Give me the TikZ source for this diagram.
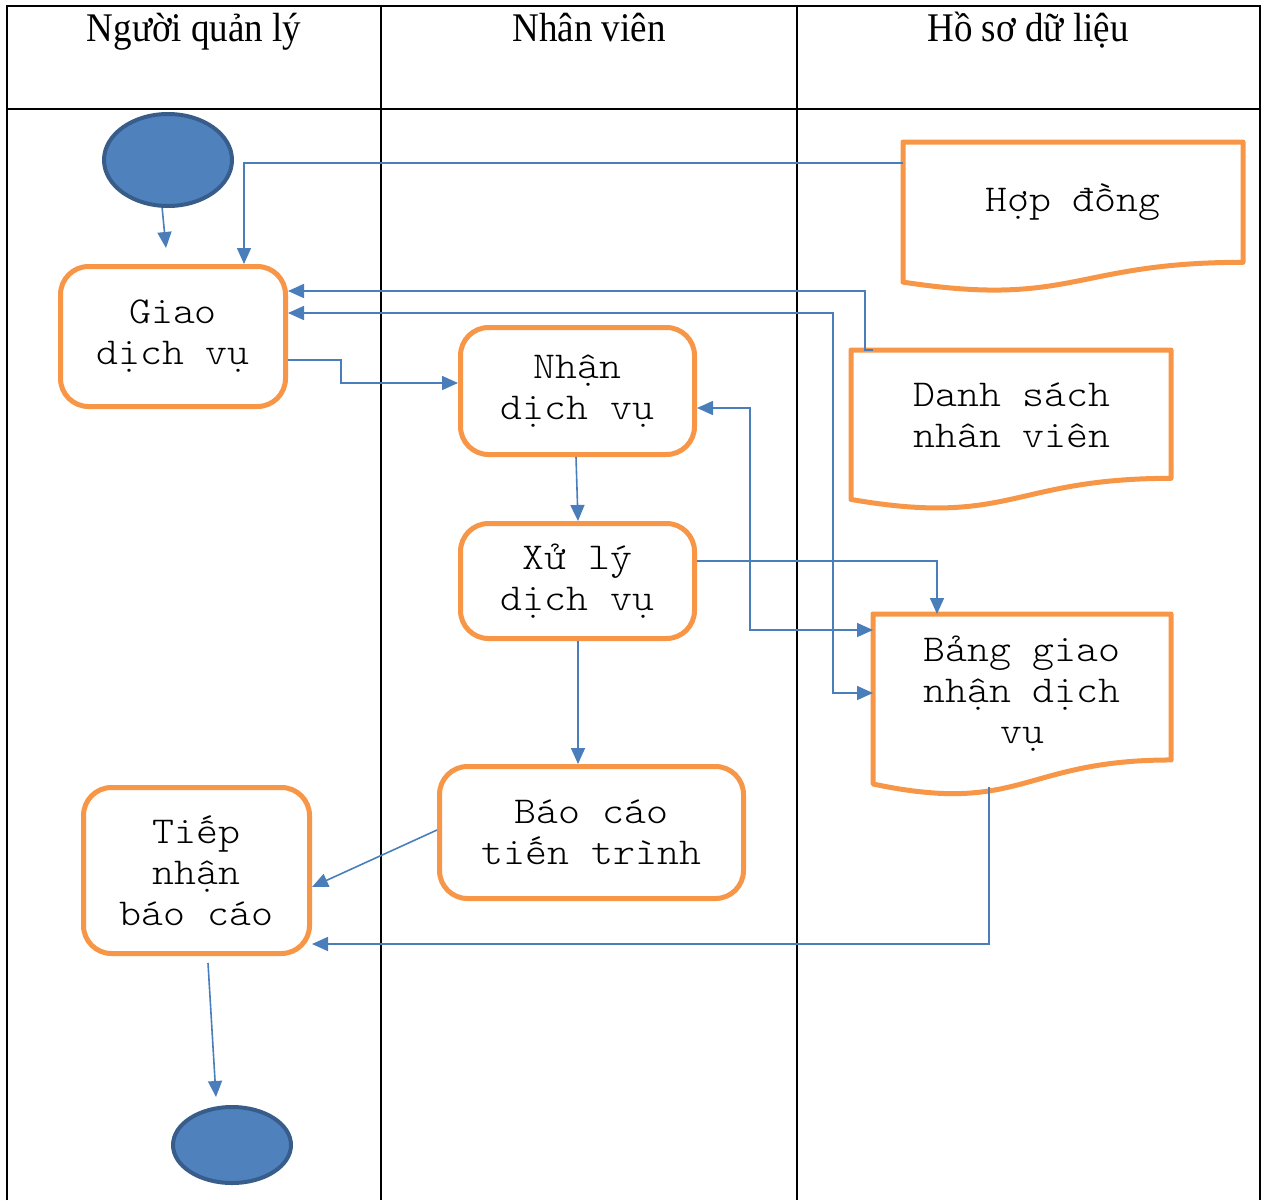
\documentclass[tikz,border=0pt]{standalone}
\usepackage{fontspec}
\setmainfont{Liberation Serif}
\newfontfamily\monofont[FakeStretch=1.1]{lmmonolt10-regular.otf}
\usetikzlibrary{arrows.meta,shapes.geometric,calc}
\definecolor{flowblue}{HTML}{4A7EBB}
\definecolor{boxorange}{HTML}{F79646}
\definecolor{termfill}{HTML}{4F81BD}
\definecolor{termline}{HTML}{385D8A}

% document symbol: flat top, wavy bottom
\newcommand\docoutline[1]{%
  \draw[docframe] let \p1=(#1.north west), \p2=(#1.south east), \n1={\y1-\y2} in
    (\x1,\y1) -- (\x2,\y1) -- (\x2,{\y1-0.802*\n1})
    .. controls ({(\x1+\x2)/2},{\y1-0.802*\n1}) and ({(\x1+\x2)/2},{\y1-1.107*\n1}) ..
    (\x1,{\y1-0.934*\n1}) -- cycle;}

\begin{document}
\begin{tikzpicture}[x=1pt,y=-1pt,
  grid/.style={line width=2pt, black},
  head/.style={font=\fontsize{37}{40}\selectfont, anchor=base, inner sep=0pt},
  task/.style={draw=boxorange, line width=5pt, rounded corners=28pt, fill=white,
    align=center, font=\monofont\fontsize{38}{41}\selectfont, inner sep=0pt},
  docframe/.style={draw=boxorange, line width=5pt, line join=round},
  docarea/.style={inner sep=0pt, outer sep=0pt, anchor=north west},
  doctext/.style={align=center, font=\monofont\fontsize{38}{41}\selectfont, inner sep=0pt},
  term/.style={ellipse, draw=termline, fill=termfill, line width=4pt, inner sep=0pt},
  flow/.style={draw=flowblue, line width=1.6pt, -{Triangle[length=16pt,width=14pt]}},
  flowboth/.style={draw=flowblue, line width=1.6pt,
    {Triangle[length=16pt,width=14pt]}-{Triangle[length=16pt,width=14pt]}},
]
\useasboundingbox (0,0) rectangle (1264,1200);

% swimlane table
\draw[grid] (7,1200) -- (7,6) -- (1260,6) -- (1260,1200);
\draw[grid] (7,109) -- (1260,109);
\draw[grid] (381,6) -- (381,1200);
\draw[grid] (797,6) -- (797,1200);

\node[head] (h1) at (194,41) {\scalebox{1}[1.1]{Người quản lý}};
\node[head] (h2) at (589,41) {\scalebox{1}[1.1]{Nhân viên}};
\node[head] (h3) at (1028,41) {\scalebox{1}[1.1]{Hồ sơ dữ liệu}};

% start and end
\node[term, minimum width=128, minimum height=92] (start) at (168,160) {};
\node[term, minimum width=118, minimum height=76] (stop) at (232,1145) {};

% activities
\node[task, minimum width=225, minimum height=140] (gd) at (173,336.5) {Giao\\dịch vụ};
\node[task, minimum width=234, minimum height=127] (nh) at (577.5,391) {Nhận\\dịch vụ};
\node[task, minimum width=234, minimum height=115] (xl) at (577.5,581) {Xử lý\\dịch vụ};
\node[task, minimum width=304, minimum height=132] (bc) at (591.5,832.5) {Báo cáo\\tiến trình};
\node[task, minimum width=226, minimum height=166] (tn) at (196.5,870.5) {Tiếp\\nhận\\báo cáo};

% data documents
\node[docarea, minimum width=340, minimum height=150] (hd) at (903,142) {};
\node[docarea, minimum width=320, minimum height=160] (ds) at (851,350) {};
\node[docarea, minimum width=298, minimum height=182] (bg) at (873,614) {};
\docoutline{hd}
\docoutline{ds}
\docoutline{bg}
\node[doctext] (hdt) at (1073,202) {Hợp đồng};
\node[doctext] (dst) at (1012,415) {Danh sách\\nhân viên};
\node[doctext] (bgt) at (1022,694) {Bảng giao\\nhận dịch\\vụ};

% free ends
\coordinate (startend) at (166,248);
\coordinate (tnout) at (208,963);
\coordinate (stopin) at (216,1097);
\coordinate (bgout) at (989,787);

% connectors
\draw[flow] (start.-97) -- (startend);
\draw[flow] (hd.west |- 0,163) -- (244,163) -- (gd.north -| 244,0);
\draw[flow] ($(ds.north west)+(22,0)$) -- (865,350) -- (865,291) -- (gd.east |- 0,291);
\draw[flowboth] (gd.east |- 0,313) -- (833,313) -- (833,693) -- (bg.west |- 0,693);
\draw[flow] (gd.east |- 0,360) -- (341,360) -- (341,383) -- (nh.west |- 0,383);
\draw[flowboth] (nh.east |- 0,408) -- (750,408) -- (750,630) -- (bg.west |- 0,630);
\draw[flow] (nh.south -| 576,0) -- (xl.north -| 578,0);
\draw[flow] (xl.east |- 0,561) -- (937,561) -- (bg.north -| 937,0);
\draw[flow] (xl.south -| 578,0) -- (bc.north -| 578,0);
\draw[flow] (bc.west |- 0,830) -- (tn.east |- 0,887);
\draw[flow] (bgout) -- (989,944) -- (tn.east |- 0,944);
\draw[flow] (tnout) -- (stopin);
\end{tikzpicture}
\end{document}
